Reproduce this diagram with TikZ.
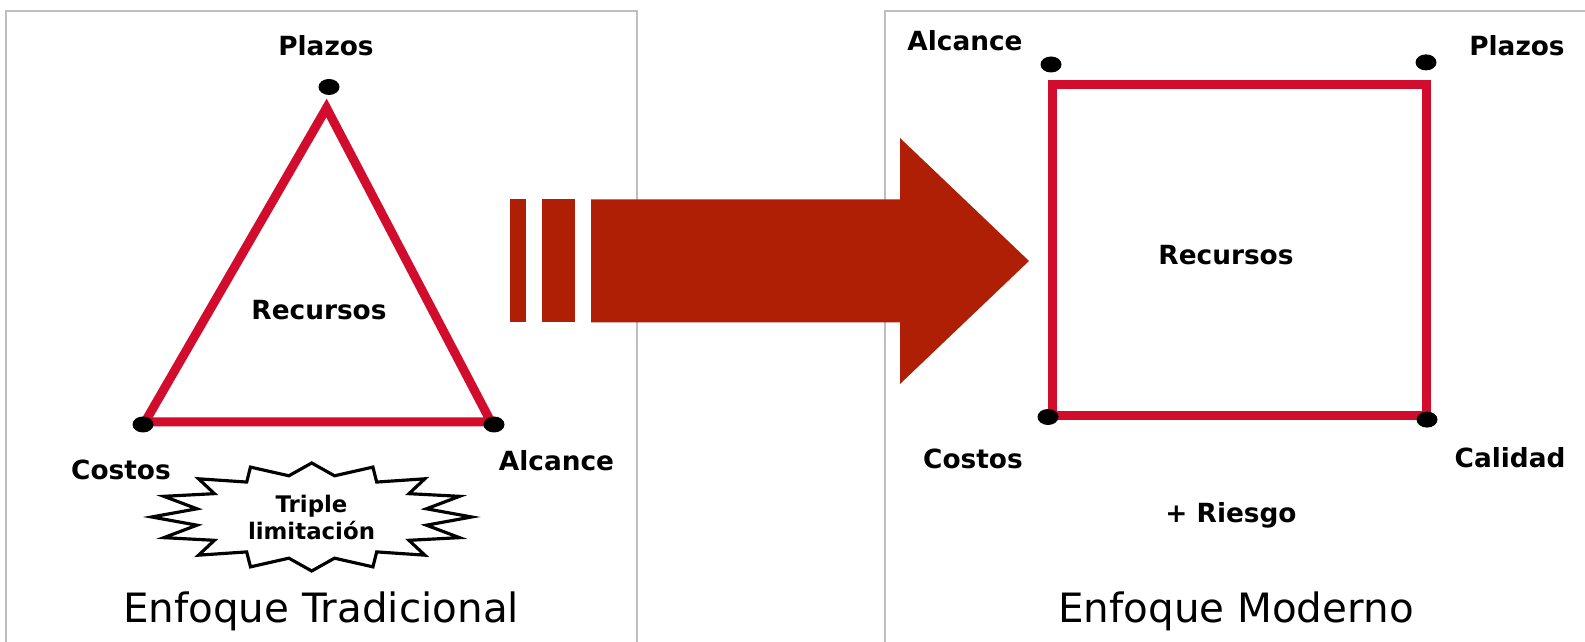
\documentclass[tikz,border=0pt]{standalone}
\usepackage{fontspec}
\setmainfont{DejaVu Sans}
\usetikzlibrary{shapes.geometric}
\definecolor{edgered}{RGB}{210,12,45}
\definecolor{arrowred}{RGB}{175,31,6}
\definecolor{panelgray}{RGB}{190,190,190}
\begin{document}
\begin{tikzpicture}[
    lbl/.style={font=\bfseries\fontsize{7.5}{9}\selectfont, inner sep=0pt},
    vdot/.style={ellipse, fill=black, inner sep=0pt, minimum width=2.1mm, minimum height=1.6mm},
    side/.style={draw=edgered, line width=0.9mm},
    panel/.style={draw=panelgray, line width=0.6pt},
    heading/.style={font=\fontsize{11.5}{13}\selectfont, inner sep=0pt},
    burstline/.style={draw=black, line width=0.9pt}
    ]
  \useasboundingbox (0,0) rectangle (15.85,6.42);
  \draw[panel] (0.06,0) |- (6.37,6.31) -- (6.37,0);
  \draw[panel] (8.85,0) |- (15.9,6.31);
  % transition arrow
  \fill[arrowred] (5.10,3.195) rectangle (5.26,4.425);
  \fill[arrowred] (5.42,3.195) rectangle (5.75,4.425);
  \fill[arrowred] (5.91,3.195) -- (9.00,3.195) -- (9.00,2.58) -- (10.29,3.81)
    -- (9.00,5.04) -- (9.00,4.425) -- (5.91,4.425) -- cycle;
  % traditional
  \coordinate (tTop) at (3.265,5.34);
  \coordinate (tLeft) at (1.45,2.20);
  \coordinate (tRight) at (4.91,2.20);
  \draw[side] (tTop) -- (tRight) -- (tLeft) -- cycle;
  \node[vdot] (dTop) at (3.29,5.55) {};
  \node[vdot] (dLeft) at (1.43,2.175) {};
  \node[vdot] (dRight) at (4.94,2.175) {};
  \node[lbl] (tPlazos) at (3.26,5.963) {Plazos};
  \node[lbl] (tRecursos) at (3.19,3.32) {Recursos};
  \node[lbl] (tCostos) at (1.21,1.72) {Costos};
  \node[lbl] (tAlcance) at (5.565,1.81) {Alcance};
  \node[align=center, inner sep=0pt, font=\bfseries\fontsize{6.5}{7.5}\selectfont] (burst) at (3.115,1.245) {Triple\\limitación};
  \draw[burstline, shift={(3.117,1.25)}] (1.60,0)
    \foreach \k in {0,...,15} { -- ({1.17*cos(22.5*\k+11.25)},{0.42*sin(22.5*\k+11.25)}) -- ({1.60*cos(22.5*\k+22.5)},{0.54*sin(22.5*\k+22.5)}) } -- cycle;
  \node[heading] (tTitle) at (3.21,0.31) {Enfoque Tradicional};
  % modern
  \coordinate (sBL) at (10.52,2.26);
  \coordinate (sTR) at (14.265,5.57);
  \draw[side] (sBL) rectangle (sTR);
  \node[vdot] (mTL) at (10.51,5.775) {};
  \node[vdot] (mTR) at (14.26,5.796) {};
  \node[vdot] (mBL) at (10.48,2.25) {};
  \node[vdot] (mBR) at (14.27,2.224) {};
  \node[lbl] (mAlcance) at (9.65,6.01) {Alcance};
  \node[lbl] (mPlazos) at (15.17,5.96) {Plazos};
  \node[lbl] (mRecursos) at (12.26,3.87) {Recursos};
  \node[lbl] (mCostos) at (9.73,1.83) {Costos};
  \node[lbl] (mCalidad) at (15.10,1.84) {Calidad};
  \node[lbl] (mRiesgo) at (12.31,1.27) {+ Riesgo};
  \node[heading] (mTitle) at (12.36,0.31) {Enfoque Moderno};
\end{tikzpicture}
\end{document}
